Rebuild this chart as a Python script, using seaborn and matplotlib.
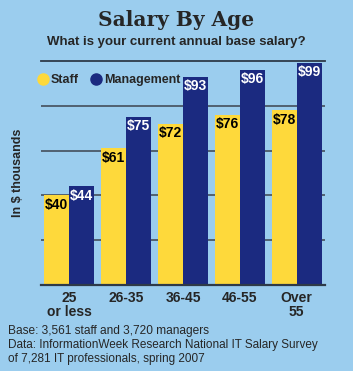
import pandas as pd
import seaborn as sns
import numpy as np
import matplotlib.pyplot as plt
from matplotlib.lines import Line2D

# data
ages = ["25\nor less", "26-35", "36-45", "46-55", "Over\n55"]
staff = [40, 61, 72, 76, 78]
management = [44, 75, 93, 96, 99]
groups = ["Staff", "Management"]

bg = "#9bcdee"
yellow = "#fed93b"
navy = "#1b2a80"
grid = "#4b5866"

df = pd.DataFrame({
    "Age": ages * 2,
    "Salary": staff + management,
    "Group": ["Staff"] * len(ages) + ["Management"] * len(ages),
})

sns.set_style("white")
plt.rcParams["font.family"] = ["Liberation Sans", "DejaVu Sans"]

W, H = 353, 371
fig = plt.figure(figsize=(W / 100, H / 100), dpi=100, facecolor=bg)
ax = fig.add_axes([41 / W, (H - 285) / H, 284 / W, 224 / H])
ax.set_facecolor(bg)

sns.barplot(data=df, x="Age", y="Salary", hue="Group", hue_order=groups,
            palette=[yellow, navy], width=0.88, gap=0, saturation=1,
            errorbar=None, legend=False, ax=ax, zorder=3, linewidth=0)

ax.set_ylim(0, 100)
ax.set_xlim(-0.5, 4.5)
for v in [20, 40, 60, 80]:
    ax.axhline(v, color=grid, lw=1.3, zorder=1)
for s in ["left", "right"]:
    ax.spines[s].set_visible(False)
ax.spines["top"].set_color("#2e3a48")
ax.spines["top"].set_linewidth(1.3)
ax.spines["bottom"].set_color("#2e3a48")
ax.spines["bottom"].set_linewidth(1.6)
ax.spines["bottom"].set_zorder(4)
ax.set_yticks([])
ax.tick_params(axis="x", length=0, pad=4)
ax.set_xticks(range(len(ages)))
ax.set_xticklabels(ages, fontsize=10, fontweight="bold", linespacing=1.0)
ax.set_xlabel("")
ax.set_ylabel("In $ thousands", fontsize=9, fontweight="bold", labelpad=12)

# value labels inside the bar tops
for cont, col in zip(ax.containers, ["black", "white"]):
    for p in cont:
        h = p.get_height()
        ax.text(p.get_x() + p.get_width() / 2, h - 1.0, f"${h:.0f}",
                ha="center", va="top", fontsize=10, fontweight="bold",
                color=col, zorder=5)

handles = [Line2D([], [], marker="o", ls="", markersize=8, color=c) for c in [yellow, navy]]
fig.legend(handles, groups, loc="center left", bbox_to_anchor=(37 / W, 1 - 80 / H),
           frameon=False, ncol=2, handlelength=0.9, handletextpad=0.2,
           columnspacing=0.9, prop={"weight": "bold", "size": 9}, borderaxespad=0,
           borderpad=0)

fig.text(0.5, 1 - 20 / H, "Salary By Age", ha="center", va="center",
         fontsize=14.5, fontweight="bold", family="DejaVu Serif")
fig.text(0.5, 1 - 42 / H, "What is your current annual base salary?", ha="center",
         va="center", fontsize=9.5, fontweight="bold")
fig.text(8 / W, 1 - 331 / H, "Base: 3,561 staff and 3,720 managers", ha="left",
         va="center", fontsize=8.6)
fig.text(8 / W, 1 - 352 / H,
         "Data: InformationWeek Research National IT Salary Survey\nof 7,281 IT professionals, spring 2007",
         ha="left", va="center", fontsize=8.5, linespacing=1.2)

fig.savefig("out.png", dpi=100, facecolor=bg)
